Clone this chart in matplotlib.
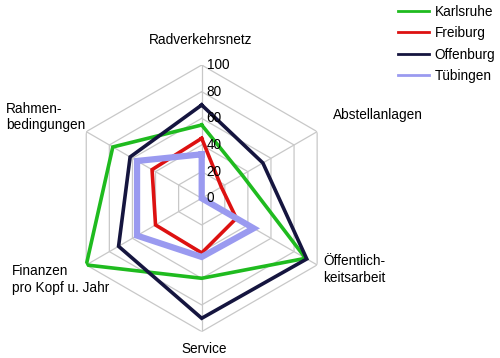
import numpy as np
import matplotlib
matplotlib.use("Agg")
import matplotlib.pyplot as plt
from matplotlib.lines import Line2D
from matplotlib.transforms import offset_copy

plt.rcParams['font.family'] = ['Liberation Sans', 'DejaVu Sans']

categories = ["Radverkehrsnetz", "Abstellanlagen", "Öffentlich-\nkeitsarbeit",
              "Service", "Finanzen\npro Kopf u. Jahr", "Rahmen-\nbedingungen"]
cities = ["Karlsruhe", "Freiburg", "Offenburg", "Tübingen"]
karlsruhe = [55, 35, 90, 60, 100, 77]
freiburg = [45, 17, 30, 41, 40, 43]
offenburg = [70, 53, 91, 90, 72, 62]
tuebingen = [33, 0, 45, 44, 56, 56]
ticks = [0, 20, 40, 60, 80, 100]

colors = ["#1fbb1f", "#dd1111", "#15153f", "#9a9af0"]
widths = [2.6, 2.6, 2.6, 4.5]

W, H = 500, 358
fig = plt.figure(figsize=(W / 100, H / 100), dpi=100)
cx, cy, rad = 201.7, 198.3, 133.3
ax = fig.add_axes([(cx - rad) / W, (H - cy - rad) / H, 2 * rad / W, 2 * rad / H],
                  projection='polar')
ax.set_theta_zero_location('N')
ax.set_theta_direction(-1)
ax.set_ylim(0, 100)
ax.grid(False)
ax.spines['polar'].set_visible(False)
ax.set_xticks([])
ax.set_yticks([])
ax.patch.set_alpha(0)

n = len(categories)
angles = np.linspace(0, 2 * np.pi, n, endpoint=False)
closed = np.append(angles, angles[0])

# hexagon grid
for r in ticks[1:]:
    ax.plot(closed, [r] * (n + 1), color="#c8c8c8", lw=0.9, zorder=1)
for a in angles:
    ax.plot([a, a], [0, 100], color="#c8c8c8", lw=0.9, zorder=1)

series = [karlsruhe, freiburg, offenburg, tuebingen]
handles = []
for name, vals, c, w in zip(cities, series, colors, widths):
    ax.plot(closed, vals + vals[:1], color=c, lw=w, zorder=3,
            solid_joinstyle='miter')
    handles.append(Line2D([], [], color=c, lw=2.0, label=name))

tr = offset_copy(ax.transData, fig=fig, x=5, y=0, units='dots')
for t in ticks:
    ax.text(0, t, str(t), transform=tr, ha='left', va='center', fontsize=9.8, zorder=4)

fs = 9.8
def px(x, y):
    return x / W, 1 - y / H

fig.text(*px(201, 40), categories[0], ha='center', va='center', fontsize=fs)
fig.text(*px(333, 115), categories[1], ha='left', va='center', fontsize=fs)
fig.text(*px(323, 269.5), categories[2], ha='left', va='center', fontsize=fs, linespacing=1.25)
fig.text(*px(204, 349), categories[3], ha='center', va='center', fontsize=fs)
fig.text(*px(11.5, 279.5), categories[4], ha='left', va='center', fontsize=fs, linespacing=1.25)
fig.text(*px(6, 117), categories[5], ha='left', va='center', fontsize=fs, linespacing=1.25)

fig.legend(handles=handles, loc='upper left', bbox_to_anchor=px(395, 2),
           frameon=False, fontsize=fs, handlelength=2.3, handletextpad=0.4,
           labelspacing=0.55, borderaxespad=0, borderpad=0.2)

fig.savefig("out.png", dpi=100)
